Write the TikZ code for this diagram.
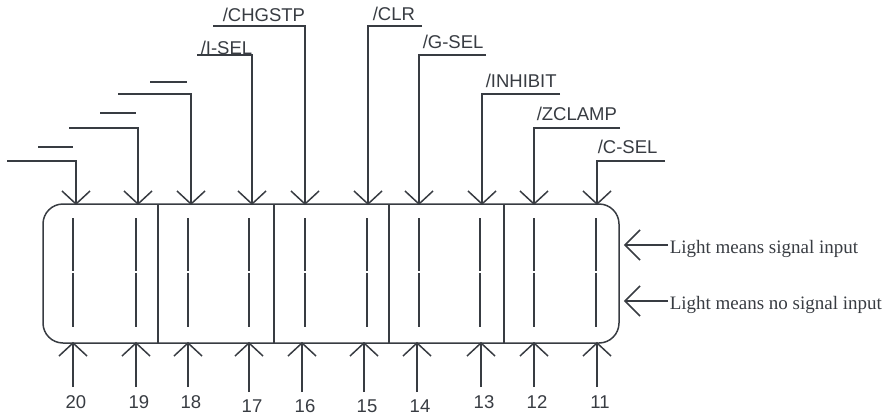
\documentclass[tikz,border=0pt]{standalone}
\usepackage{fontspec}
\setmainfont{Liberation Serif}
\setsansfont{Liberation Sans}
\definecolor{ink}{HTML}{383C42}
\begin{document}
\begin{tikzpicture}[x=1pt,y=-1pt,
  line width=1.5pt,
  every node/.style={inner sep=0pt, text=ink},
  lbl/.style={font=\sffamily\fontsize{18.5}{20}\selectfont},
  note/.style={font=\fontsize{19}{21}\selectfont}]
\useasboundingbox (0,0) rectangle (894,415);
% panel
\draw[ink, rounded corners=20pt] (43,204) rectangle (619,343);
\foreach \x in {158,274,389,504} \draw[ink] (\x,204) -- (\x,343);
% indicator lines
\foreach \x in {73,136,188,249,305,367,419,480,534,596}{
  \draw[ink] (\x,218) -- (\x,271);
  \draw[ink] (\x,273) -- (\x,327);
}
% top inputs: name / column x / horizontal y / start x
\foreach \n/\xc/\yh/\xs in {20/76/161/7, 19/138/128/69, 18/191/94/118, 17/252/55/197, 16/305/26/213,
  15/368/26/422, 14/419/55/486, 13/482/94/560, 12/534/128/620, 11/597/161/665}{
  \coordinate (ts\n) at (\xs,\yh);
  \coordinate (tt\n) at (\xc,204);
  \draw[ink] (ts\n) -| (tt\n);
  \draw[ink] (\xc-14,191) -- (tt\n) -- (\xc+14,191);
}
% overbars
\coordinate (oa1) at (38,147); \coordinate (oa2) at (73,147);
\coordinate (ob1) at (100,113); \coordinate (ob2) at (136,113);
\coordinate (oc1) at (150,82); \coordinate (oc2) at (187,82);
\draw[ink] (oa1) -- (oa2);
\draw[ink] (ob1) -- (ob2);
\draw[ink] (oc1) -- (oc2);
% top labels
\node[lbl, anchor=base west] (l16) at (222,21) {/CHGSTP};
\node[lbl, anchor=base west] (l17) at (200,54) {/I-SEL};
\node[lbl, anchor=base west] (l15) at (372,20) {/CLR};
\node[lbl, anchor=base west] (l14) at (422,48) {/G-SEL};
\node[lbl, anchor=base west] (l13) at (485,87) {/INHIBIT};
\node[lbl, anchor=base west] (l12) at (536,120) {/ZCLAMP};
\node[lbl, anchor=base west] (l11) at (597,153) {/C-SEL};
% bottom inputs: name / x / line start y / label centre y
\foreach \n/\x/\ys/\yl in {20/73/387/402, 19/136/387/402, 18/188/387/402, 17/249/392/406, 16/302/392/406,
  15/364/392/406, 14/417/392/406, 13/481/387/402, 12/534/387/402, 11/597/387/402}{
  \node[lbl] (n\n) at (\x+3,\yl) {\n};
  \coordinate (bs\n) at (\x,\ys);
  \coordinate (bt\n) at (\x,343);
  \draw[ink] (bs\n) -- (bt\n);
  \draw[ink] (\x-14,356) -- (bt\n) -- (\x+14,356);
}
% right-hand notes
\node[note, anchor=base west] (sig) at (669,253) {Light means signal input};
\node[note, anchor=base west] (nosig) at (669,309) {Light means no signal input};
\coordinate (sigs) at (668,245); \coordinate (sigt) at (625,245);
\coordinate (nosigs) at (668,301); \coordinate (nosigt) at (625,301);
\draw[ink] (sigs) -- (sigt);
\draw[ink] (640,230) -- (sigt) -- (640,260);
\draw[ink] (nosigs) -- (nosigt);
\draw[ink] (640,286) -- (nosigt) -- (640,316);
\end{tikzpicture}
\end{document}
